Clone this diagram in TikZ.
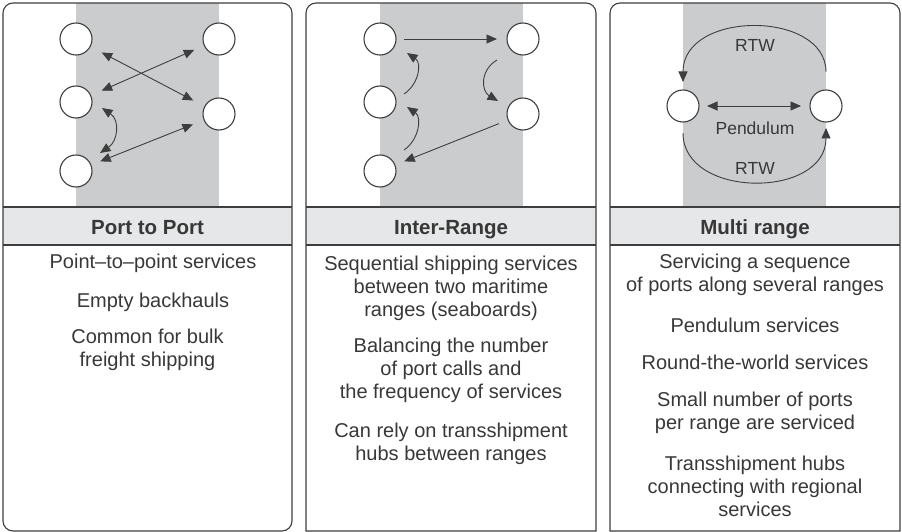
\documentclass[tikz,border=0pt]{standalone}
\usepackage{fontspec}
\setmainfont{Liberation Sans}
\usetikzlibrary{arrows.meta}
\definecolor{linec}{HTML}{3E3E3E}
\definecolor{band}{HTML}{CBCCCD}
\definecolor{head}{HTML}{E6E7E8}
\definecolor{txt}{HTML}{383838}
\begin{document}
\begin{tikzpicture}[x=1pt,y=-1pt,
  panel/.style={draw=linec, line width=1.1pt},
  port/.style={circle, draw=linec, line width=1.1pt, fill=white, minimum size=32pt, inner sep=0pt, outer sep=0pt},
  one/.style={draw=linec, line width=0.9pt, -{Triangle[length=10.5pt,width=9pt]}},
  two/.style={draw=linec, line width=0.9pt, {Triangle[length=10.5pt,width=9pt]}-{Triangle[length=10.5pt,width=9pt]}},
  body/.style={align=center, inner sep=0pt, text=txt, font=\fontsize{20}{23}\selectfont},
  title/.style={inner sep=0pt, anchor=base, text=txt, font=\fontsize{20.5}{24}\selectfont\bfseries},
  tag/.style={inner sep=0pt, text=txt, font=\fontsize{17.5}{20}\selectfont}]
\useasboundingbox (0,0) rectangle (902,532);

% grey range bands and header strips
\fill[band] (76,3) rectangle (219,207);
\fill[band] (380,3) rectangle (523,207);
\fill[band] (683,3) rectangle (826,207);
\fill[head] (3,207) rectangle (292,245);
\fill[head] (306,207) rectangle (596,245);
\fill[head] (610,207) rectangle (900,245);

% panel outlines
\draw[panel, rounded corners=10pt] (3,3) rectangle (292,531);
\draw[panel] (306,531) -- (306,13) .. controls (306,7.5) and (310.5,3) .. (316,3)
  -- (586,3) .. controls (591.5,3) and (596,7.5) .. (596,13) -- (596,531) -- cycle;
\draw[panel] (610,531) -- (610,13) .. controls (610,7.5) and (614.5,3) .. (620,3)
  -- (890,3) .. controls (895.5,3) and (900,7.5) .. (900,13) -- (900,531) -- cycle;
\draw[panel] (3,207) -- (292,207) (3,245) -- (292,245);
\draw[panel] (306,207) -- (596,207) (306,245) -- (596,245);
\draw[panel] (610,207) -- (900,207) (610,245) -- (900,245);

% headers
\node[title] (h1) at (147.5,234) {Port to Port};
\node[title] (h2) at (451,234) {Inter-Range};
\node[title] (h3) at (755,234) {Multi range};

% Port to Port
\node[port] (p1a) at (76,39) {};
\node[port] (p1b) at (76,102) {};
\node[port] (p1c) at (76,171) {};
\node[port] (p1d) at (219,39) {};
\node[port] (p1e) at (219,114) {};
\draw[two, shorten <=13pt, shorten >=13pt] (p1a) -- (p1e);
\draw[two, shorten <=12pt, shorten >=11pt] (p1b) -- (p1d);
\draw[two, shorten <=10pt, shorten >=12pt] (p1c) -- (p1e);
\draw[two] ([shift={(26,6)}]p1b.center) .. controls +(18,12) and +(18,-12) .. ([shift={(24,-18)}]p1c.center);

% Inter-Range
\node[port] (q1a) at (380,39) {};
\node[port] (q1b) at (380,102) {};
\node[port] (q1c) at (380,171) {};
\node[port] (q1d) at (523,39) {};
\node[port] (q1e) at (523,114) {};
\draw[one, shorten <=8pt, shorten >=10pt] (q1a) -- (q1d);
\draw[one] ([shift={(-26,21)}]q1d.center) .. controls +(-17,10) and +(-17,-10) .. ([shift={(-25,-13)}]q1e.center);
\draw[one, shorten <=10pt, shorten >=10pt] (q1e) -- (q1c);
\draw[one] ([shift={(24,-21)}]q1c.center) .. controls +(15,-10) and +(15,10) .. ([shift={(27,5)}]q1b.center);
\draw[one] ([shift={(24,-8)}]q1b.center) .. controls +(15,-10) and +(15,10) .. ([shift={(27,14)}]q1a.center);

% Multi range
\node[port] (r1a) at (683,106) {};
\node[port] (r1b) at (826,106) {};
\draw[two, shorten <=8pt, shorten >=9pt] (r1a) -- (r1b);
\draw[one] ([shift={(0,-34)}]r1b.center) .. controls (826,10) and (683,10) .. ([shift={(0,-24)}]r1a.center);
\draw[one] ([shift={(0,27)}]r1a.center) .. controls (683,199) and (826,199) .. ([shift={(0,22)}]r1b.center);
\node[tag] (rtwt) at (755,45) {RTW};
\node[tag] (pend) at (755,128) {Pendulum};
\node[tag] (rtwb) at (755,168) {RTW};

% descriptions
\node[body] (t11) at (153,263) {Point\textendash to\textendash point services};
\node[body] (t12) at (153,302) {Empty backhauls};
\node[body] (t13) at (147.5,349.5) {Common for bulk\\freight shipping};

\node[body] (t21) at (451,288) {Sequential shipping services\\between two maritime\\ranges (seaboards)};
\node[body] (t22) at (451,370) {Balancing the number\\of port calls and\\the frequency of services};
\node[body] (t23) at (451,444) {Can rely on transshipment\\hubs between ranges};

\node[body] (t31) at (755,275) {Servicing a sequence\\of ports along several ranges};
\node[body] (t32) at (755,325) {Pendulum services};
\node[body] (t33) at (755,362) {Round-the-world services};
\node[body] (t34) at (755,412.5) {Small number of ports\\per range are serviced};
\node[body] (t35) at (755,486) {Transshipment hubs\\connecting with regional\\services};
\end{tikzpicture}
\end{document}
